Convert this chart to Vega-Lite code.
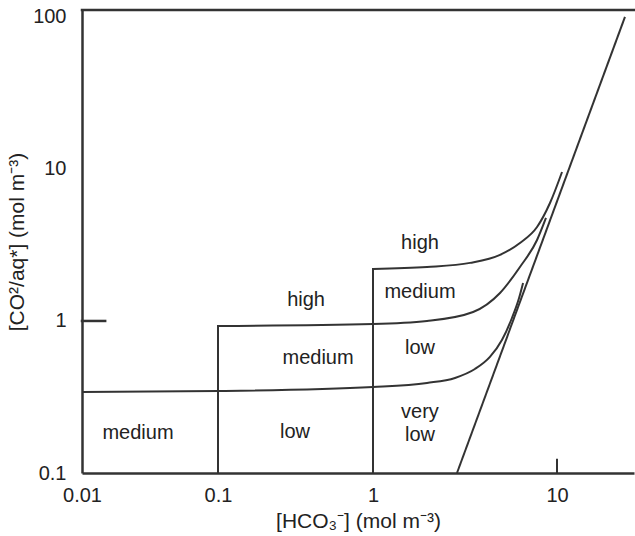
{
  "$schema": "https://vega.github.io/schema/vega-lite/v6.json",
  "width": 552,
  "height": 463,
  "autosize": "none",
  "padding": {"left": 82, "top": 10, "right": 1, "bottom": 63},
  "background": "white",
  "config": {
    "view": {"stroke": null},
    "font": "Liberation Sans",
    "axis": {"grid": false, "ticks": false, "labelFlush": false, "domainColor": "#333", "domainWidth": 2.5, "labelColor": "#222", "titleColor": "#222", "labelFontSize": 20, "titleFontSize": 21, "titleFontWeight": "normal", "labelFont": "Liberation Sans", "titleFont": "Liberation Sans"}
  },
  "datasets": {
    "curves": [
      {"curve": "lower", "x": 0.01, "y": 0.341},
      {"curve": "lower", "x": 0.1, "y": 0.346},
      {"curve": "lower", "x": 1, "y": 0.368},
      {"curve": "lower", "x": 1.966, "y": 0.391},
      {"curve": "lower", "x": 2.79, "y": 0.422},
      {"curve": "lower", "x": 3.58, "y": 0.483},
      {"curve": "lower", "x": 4.32, "y": 0.58},
      {"curve": "lower", "x": 5.02, "y": 0.75},
      {"curve": "lower", "x": 5.69, "y": 1.046},
      {"curve": "lower", "x": 6.22, "y": 1.416},
      {"curve": "lower", "x": 6.54, "y": 1.778},
      {"curve": "middle", "x": 0.1, "y": 0.927},
      {"curve": "middle", "x": 1, "y": 0.955},
      {"curve": "middle", "x": 1.966, "y": 1.0},
      {"curve": "middle", "x": 3.5, "y": 1.146},
      {"curve": "middle", "x": 4.9, "y": 1.528},
      {"curve": "middle", "x": 6.29, "y": 2.265},
      {"curve": "middle", "x": 7.79, "y": 3.41},
      {"curve": "middle", "x": 8.71, "y": 4.76},
      {"curve": "upper", "x": 1, "y": 2.2},
      {"curve": "upper", "x": 1.966, "y": 2.265},
      {"curve": "upper", "x": 3.37, "y": 2.41},
      {"curve": "upper", "x": 4.9, "y": 2.72},
      {"curve": "upper", "x": 6.29, "y": 3.26},
      {"curve": "upper", "x": 7.79, "y": 4.15},
      {"curve": "upper", "x": 9.16, "y": 5.97},
      {"curve": "upper", "x": 10.65, "y": 9.55},
      {"curve": "diagonal", "x": 2.86, "y": 0.1},
      {"curve": "diagonal", "x": 23.4, "y": 100}
    ],
    "segments": [
      {"x": 0.1, "x2": 0.1, "y": 0.1, "y2": 0.927, "w": 2},
      {"x": 1, "x2": 1, "y": 0.1, "y2": 2.2, "w": 2},
      {"x": 0.01, "x2": 0.0148, "y": 1, "y2": 1, "w": 2.5},
      {"x": 10, "x2": 10, "y": 0.1, "y2": 0.122, "w": 2},
      {"x": 0.01, "x2": 26.2, "y": 111, "y2": 111, "w": 2.5}
    ],
    "labels": [
      {"x": 0.0258, "y": 0.183, "t": "medium"},
      {"x": 0.314, "y": 0.186, "t": "low"},
      {"x": 0.442, "y": 0.571, "t": "medium"},
      {"x": 0.37, "y": 1.374, "t": "high"},
      {"x": 1.8, "y": 3.26, "t": "high"},
      {"x": 1.8, "y": 1.552, "t": "medium"},
      {"x": 1.8, "y": 0.664, "t": "low"},
      {"x": 1.8, "y": 0.25, "t": "very"},
      {"x": 1.8, "y": 0.177, "t": "low"}
    ]
  },
  "layer": [
    {
      "data": {"name": "curves"},
      "mark": {"type": "line", "interpolate": "monotone", "stroke": "#333", "strokeWidth": 2, "clip": true},
      "encoding": {
        "x": {"field": "x", "type": "quantitative",
              "scale": {"type": "log", "domain": [0.01, 0.1, 1, 10, 26.2], "range": [0, 136, 291, 475, 552], "nice": false},
              "axis": {"orient": "bottom", "values": [0.01, 0.1, 1, 10], "format": "~g", "labelPadding": 12, "title": "[HCO₃⁻] (mol m⁻³)", "titlePadding": 5}},
        "y": {"field": "y", "type": "quantitative",
              "scale": {"type": "log", "domain": [0.1, 111], "nice": false},
              "axis": {"orient": "left", "values": [0.1, 1, 10, 100], "format": "~g", "labelPadding": 16, "title": "[CO²/aq*] (mol m⁻³)", "titlePadding": 5}},
        "detail": {"field": "curve"}
      }
    },
    {
      "data": {"name": "segments"},
      "mark": {"type": "rule", "stroke": "#333", "strokeCap": "square"},
      "encoding": {
        "x": {"field": "x", "type": "quantitative"},
        "x2": {"field": "x2"},
        "y": {"field": "y", "type": "quantitative"},
        "y2": {"field": "y2"},
        "strokeWidth": {"field": "w", "type": "quantitative", "scale": null}
      }
    },
    {
      "data": {"name": "labels"},
      "mark": {"type": "text", "fontSize": 20, "color": "#222", "align": "center", "baseline": "middle", "font": "Liberation Sans"},
      "encoding": {
        "x": {"field": "x", "type": "quantitative"},
        "y": {"field": "y", "type": "quantitative"},
        "text": {"field": "t"}
      }
    }
  ]
}
